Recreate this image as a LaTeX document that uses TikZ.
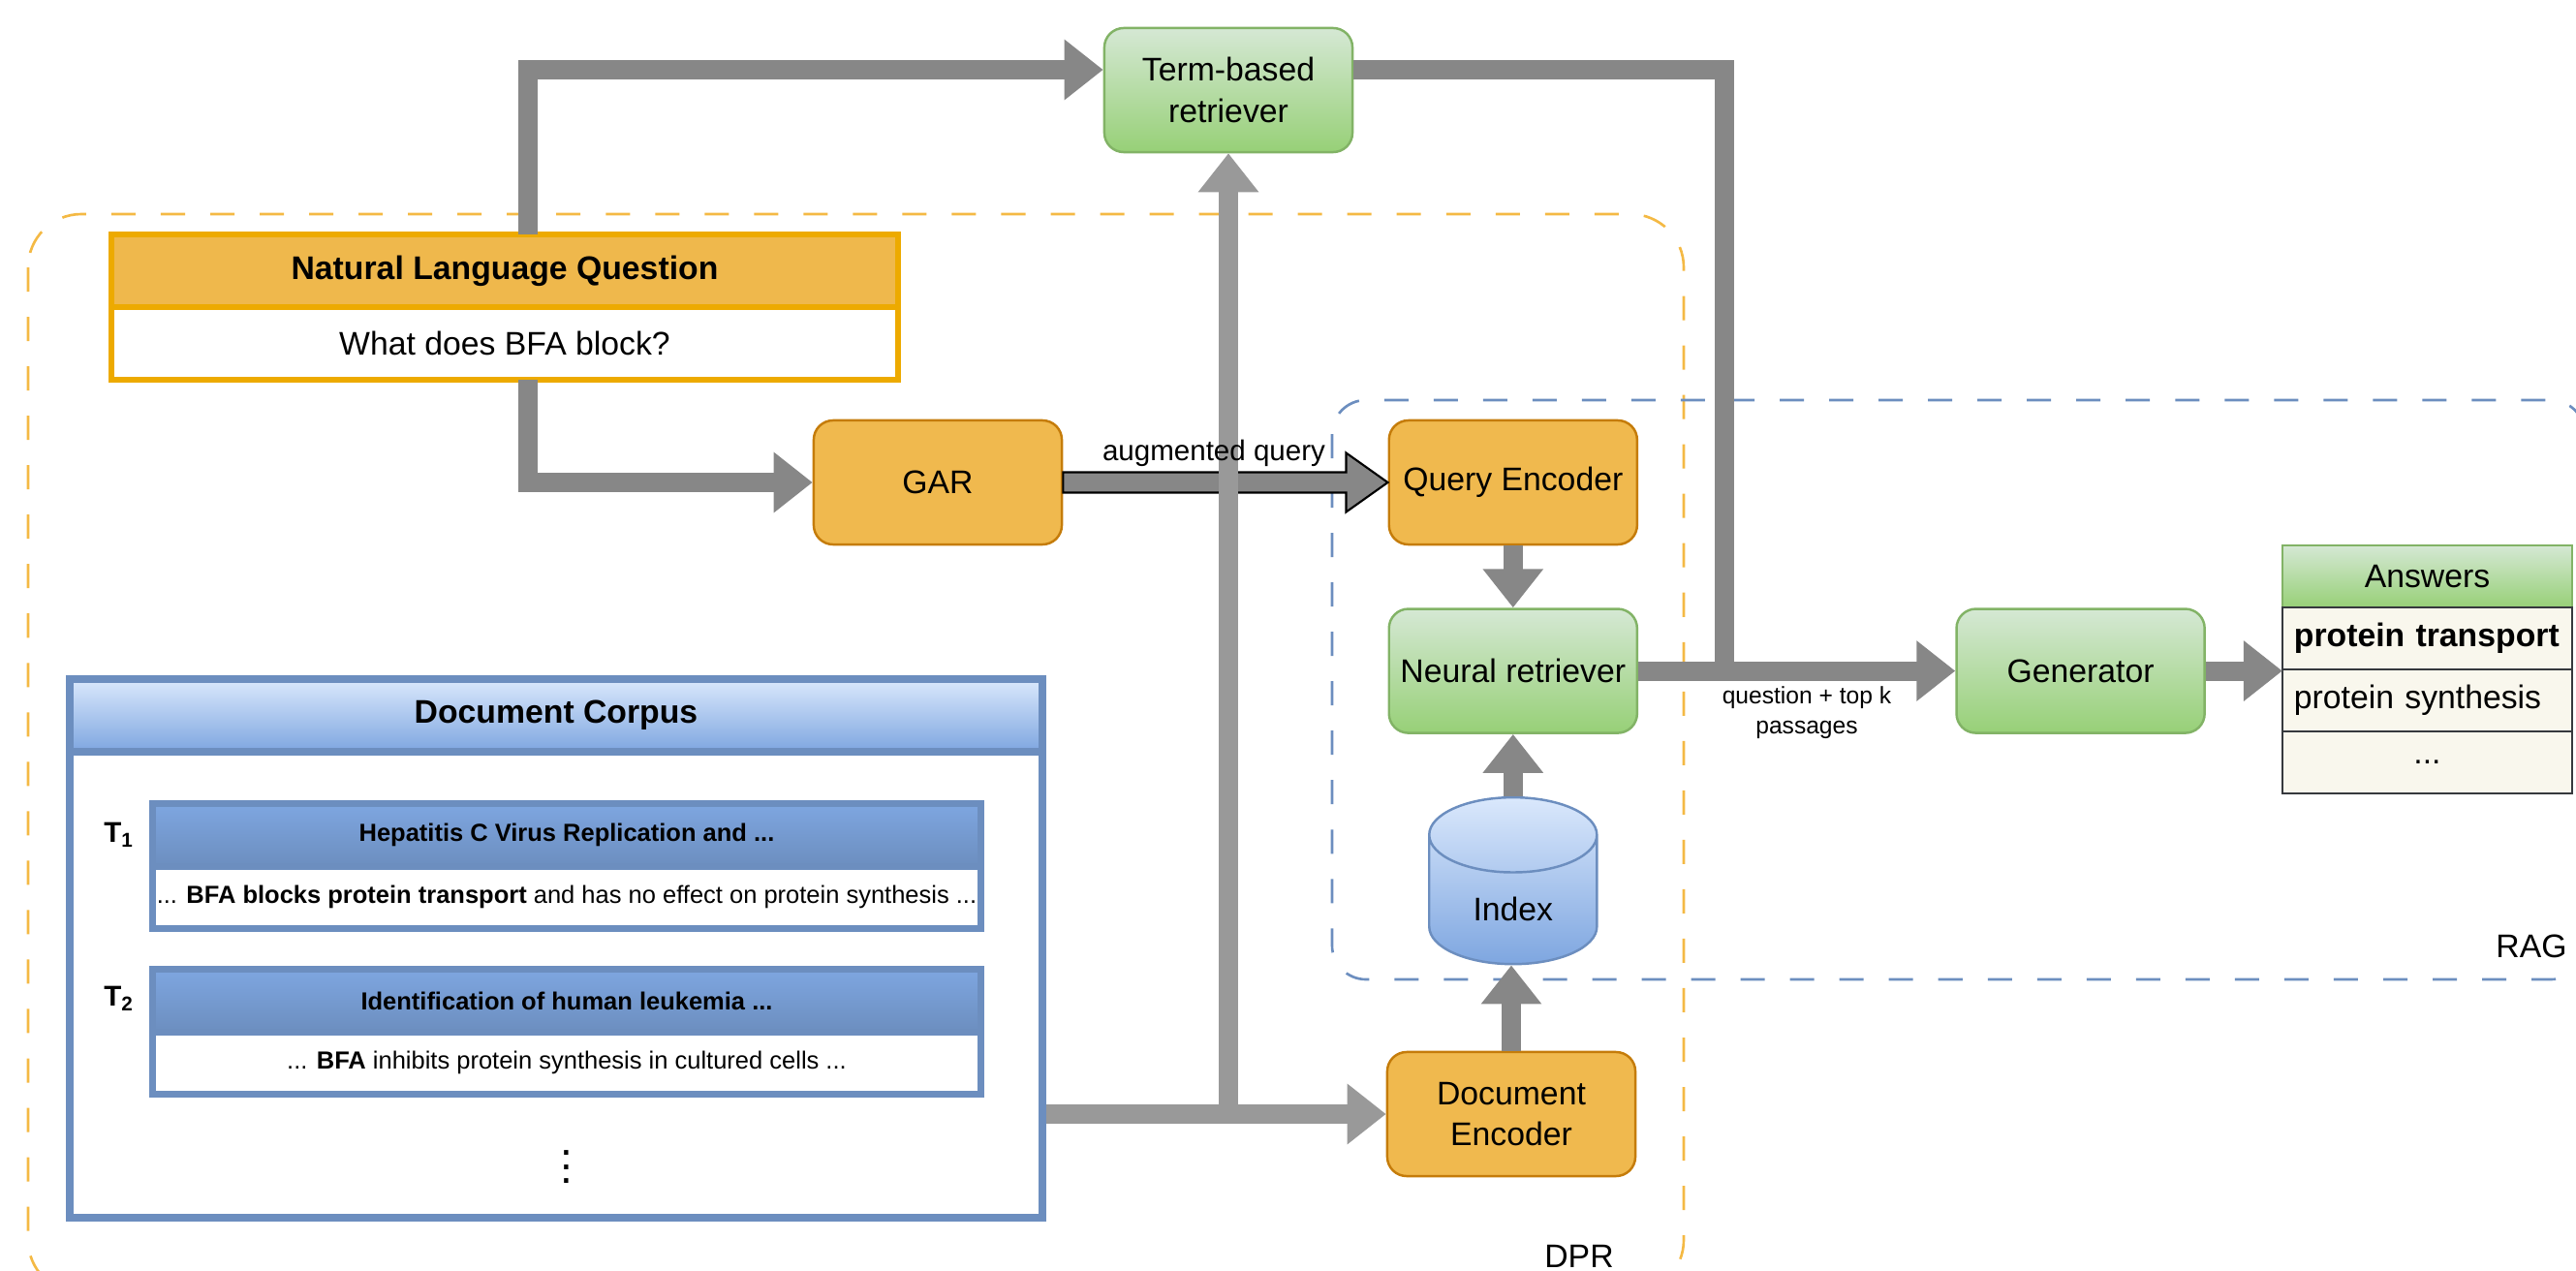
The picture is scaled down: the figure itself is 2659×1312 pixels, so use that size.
\documentclass[tikz,border=0pt]{standalone}
\usepackage{fontspec}
\setmainfont{Liberation Sans}
\usepackage{tikz}
\usetikzlibrary{arrows.meta,shapes.geometric,positioning,calc}
\definecolor{boxorange}{HTML}{F0B94E}
\definecolor{edgeorange}{HTML}{C57C0A}
\definecolor{greentop}{HTML}{D5E8D4}
\definecolor{greenbot}{HTML}{97D077}
\definecolor{edgegreen}{HTML}{82B366}
\definecolor{bluetop}{HTML}{DAE8FC}
\definecolor{bluebot}{HTML}{7EA6E0}
\definecolor{edgeblue}{HTML}{6C8EBF}
\definecolor{nlqfill}{HTML}{EFB84C}
\definecolor{nlqedge}{HTML}{EDAA00}
\definecolor{rowfill}{HTML}{F9F7ED}
\definecolor{rowedge}{HTML}{36393D}
\definecolor{dprline}{HTML}{F4B944}
\definecolor{flowgray}{HTML}{878787}
\definecolor{softgray}{HTML}{999999}
\tikzset{every picture/.style={line width=0.7pt}}
\tikzset{
  stage/.style={rectangle, rounded corners=0.2cm, minimum width=2.56cm, minimum height=1.28cm, align=center},
  orangebox/.style={stage, fill=boxorange, draw=edgeorange},
  greenbox/.style={stage, top color=greentop, bottom color=greenbot, draw=edgegreen},
  dbnode/.style={cylinder, shape border rotate=90, aspect=0.73, minimum width=1.73cm, minimum height=1.72cm, top color=bluetop, bottom color=bluebot, draw=edgeblue},
  nlqhead/.style={rectangle, outer sep=0pt, minimum width=8.12cm, minimum height=0.75cm, fill=nlqfill, draw=nlqedge, line width=0.06cm, font=\fontsize{9.6}{12}\selectfont\bfseries},
  nlqbody/.style={rectangle, outer sep=0pt, minimum width=8.12cm, minimum height=0.75cm, fill=white, draw=nlqedge, line width=0.06cm},
  corpusbox/.style={rectangle, minimum width=10.04cm, minimum height=5.56cm, fill=white, draw=edgeblue, line width=0.08cm},
  corpushead/.style={rectangle, minimum width=10.04cm, minimum height=0.75cm, top color=bluetop, bottom color=bluebot, draw=edgeblue, line width=0.08cm, font=\fontsize{9.6}{12}\selectfont\bfseries},
  titlehead/.style={rectangle, outer sep=0pt, inner sep=0pt, minimum width=8.54cm, minimum height=0.64cm, top color=bluebot, bottom color=edgeblue, draw=edgeblue, line width=0.07cm, font=\fontsize{7.25}{9}\selectfont\bfseries},
  titlebody/.style={rectangle, outer sep=0pt, inner sep=0pt, minimum width=8.54cm, minimum height=0.64cm, fill=white, draw=edgeblue, line width=0.07cm, font=\fontsize{7.25}{9}\selectfont},
  tag/.style={font=\fontsize{8.4}{10}\selectfont\bfseries},
  anshead/.style={rectangle, outer sep=0pt, minimum width=2.99cm, minimum height=0.64cm, top color=greentop, bottom color=greenbot, draw=edgegreen},
  ansrow/.style={rectangle, outer sep=0pt, minimum height=0.64cm, fill=rowfill, draw=rowedge, text width=2.75cm, align=left, inner xsep=0.12cm},
  flow/.style={draw=flowgray, line width=0.2cm, line join=miter, -{Triangle[width=0.6cm, length=0.4cm]}},
  softflow/.style={flow, draw=softgray},
  container/.style={line width=0.75pt, dash pattern=on 0.25cm off 0.26cm},
  note/.style={font=\fontsize{8.4}{10}\selectfont},
}

\begin{document}
\begin{tikzpicture}[x=0.01cm, y=-0.01cm, font=\fontsize{9.6}{12}\selectfont]
    \useasboundingbox (0,0) rectangle (2659,1312);
    \clip (0,0) rectangle (2659,1312);

    \draw[container, draw=dprline, rounded corners=0.55cm] (29,221) rectangle (1738,1335);
    \draw[container, draw=edgeblue, rounded corners=0.35cm] (1375,413) rectangle (2668,1011);
    \node (dprtag) at (1630,1297) {DPR};
    \node (ragtag) at (2613,977) {RAG};

    \node[greenbox] (term) at (1268,93) {Term-based\\retriever};
    \node[orangebox] (gar) at (968,498) {GAR};
    \node[orangebox, right=3.35cm of gar] (qenc) {Query Encoder};
    \node[greenbox, below=0.64cm of qenc] (neural) {Neural retriever};
    \node[greenbox, right=3.27cm of neural] (gen) {Generator};
    \node[dbnode, below=0.64cm of neural] (index) {Index};
    \node[orangebox] (denc) at (1560,1150) {Document\\Encoder};

    \node[nlqhead] (nlq) at (521,279.5) {Natural Language Question};
    \node[nlqbody, below=0pt of nlq] (nlqtext) {What does BFA block?};

    \node[anshead] (ans) at (2505.5,595) {Answers};
    \node[ansrow, below=0pt of ans] (ans1) {\bfseries protein transport};
    \node[ansrow, below=0pt of ans1] (ans2) {protein synthesis};
    \node[ansrow, below=0pt of ans2, align=center] (ans3) {...};

    \node[corpusbox] (corpus) at (574,979) {};
    \node[corpushead] (corphead) at (574,738.5) {Document Corpus};
    \node[titlehead] (t1head) at (585,862) {Hepatitis C Virus Replication and ...};
    \node[titlebody, below=0pt of t1head] (t1body) {... \textbf{BFA blocks protein transport} and has no effect on protein synthesis ...};
    \node[titlehead] (t2head) at (585,1033) {Identification of human leukemia ...};
    \node[titlebody, below=0pt of t2head] (t2body) {... \textbf{BFA} inhibits protein synthesis in cultured cells ...};
    \node[tag] (t1) at (123,862) {T\textsubscript{1}};
    \node[tag] (t2) at (123,1031) {T\textsubscript{2}};
    \node[font=\fontsize{13}{14}\selectfont] (more) at (585,1194) {$\vdots$};

    \coordinate (merge) at (1780,691);
    \coordinate (fork) at (term.south |- denc.west);

    \draw[flow] ($(nlq.north)+(24,0)$) |- ($(term.west)+(0,-21)$);
    \draw[flow] ($(nlqtext.south)+(24,0)$) |- (gar.west);
    \draw[draw=black, fill=flowgray, line width=0.6pt] ($(gar.east)+(0,-10.5)$) -- ($(qenc.west)+(-43,-10.5)$) -- ($(qenc.west)+(-43,-30.5)$) -- (qenc.west) -- ($(qenc.west)+(-43,30.5)$) -- ($(qenc.west)+(-43,10.5)$) -- ($(gar.east)+(0,10.5)$) -- cycle;
    \draw[flow, -] ($(term.east)+(0,-21)$) -| (merge);
    \draw[flow] (neural.east) -- (gen.west);
    \draw[flow] (gen.east) -- (gen.east -| ans1.west);
    \draw[flow] (qenc.south) -- (neural.north);
    \draw[flow] (neural.south |- index.north) -- (neural.south);
    \draw[flow] (denc.north) -- (denc.north |- index.south);
    \draw[softflow] (corpus.east |- denc.west) -- (denc.west);
    \draw[softflow] (fork) -- (term.south);

    \node[note] (augq) at (1253,468) {augmented query};
    \node[note, font=\fontsize{7}{8.8}\selectfont, align=center] (topk) at (1865,736) {question + top k\\passages};
\end{tikzpicture}
\end{document}
